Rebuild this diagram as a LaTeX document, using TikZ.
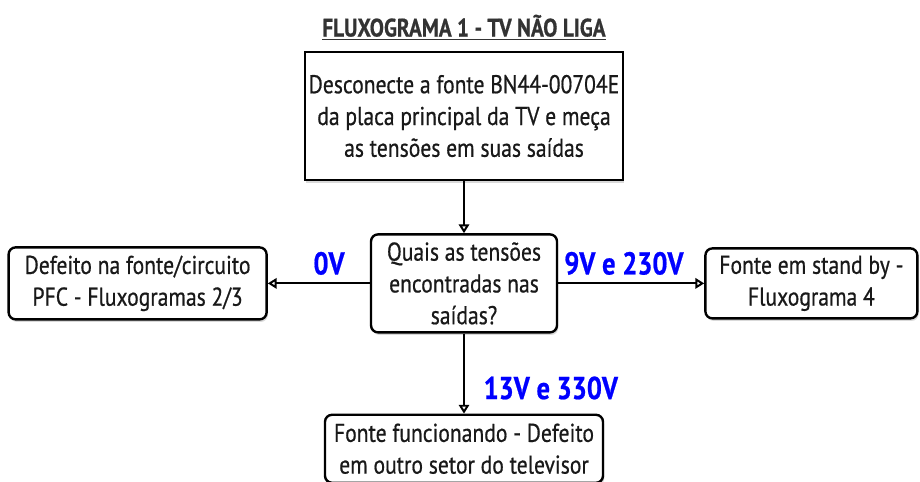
\documentclass[tikz,border=0pt]{standalone}
\usepackage{fontspec}
\setmainfont{PT Sans}[FakeStretch=0.84, FakeBold=0.6]
\usetikzlibrary{positioning,arrows.meta,shadows}

\begin{document}
\begin{tikzpicture}[
    node distance=1.3cm and 2.55cm,
    box/.style={draw, line width=1.7pt, align=center, fill=white, inner sep=1pt,
        drop shadow={opacity=0.3, shadow xshift=0.9pt, shadow yshift=-1.8pt},
        font=\fontsize{18.3}{22.6}\selectfont, text=black!90},
    rbox/.style={box, rounded corners=5pt},
    lbl/.style={text=blue, font=\fontsize{22.5}{24}\selectfont\bfseries},
    line/.style={-{Triangle[open,length=2.2mm,width=2.6mm]}, line width=1.4pt}
]
\useasboundingbox (0,0) rectangle (23,-12.05);
\node[font=\fontsize{18}{20}\selectfont\bfseries, text=black!80] (titulo) at (11.6,-0.68) {\underline{FLUXOGRAMA 1 - TV NÃO LIGA}};
\node[box, minimum width=7.95cm, minimum height=3.2cm] (desc) at (11.6,-2.9)
    {Desconecte a fonte BN44-00704E\\da placa principal da TV e meça\\as tensões em suas saídas};
\node[rbox, below=1.3cm of desc, minimum width=4.65cm, minimum height=2.45cm] (quais)
    {Quais as tensões\\encontradas nas\\saídas?};
\node[rbox, left=2.55cm of quais, minimum width=6.45cm, minimum height=1.8cm] (defeito)
    {Defeito na fonte/circuito\\PFC - Fluxogramas 2/3};
\node[rbox, right=3.65cm of quais, minimum width=5.3cm, minimum height=1.75cm] (standby)
    {Fonte em stand by -\\Fluxograma 4};
\node[rbox, below=2cm of quais, minimum width=6.95cm, minimum height=1.7cm] (funciona)
    {Fonte funcionando - Defeito\\em outro setor do televisor};

\draw[line] (desc) -- (quais);
\draw[line] (quais) -- node[lbl, above=2pt, pos=0.4] {0V} (defeito);
\draw[line] (quais) -- node[lbl, above=2pt, pos=0.45] {9V e 230V} (standby);
\draw[line] (quais) -- node[lbl, right=0.35cm, pos=0.68] {13V e 330V} (funciona);
\end{tikzpicture}
\end{document}
